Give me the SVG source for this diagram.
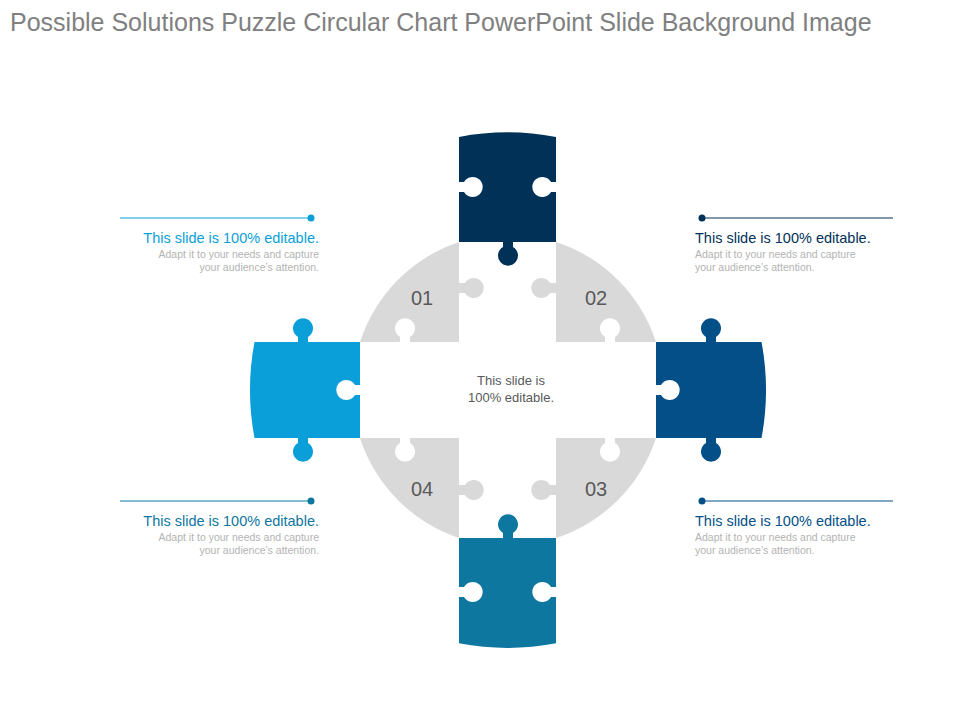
<svg xmlns="http://www.w3.org/2000/svg" width="960" height="720" viewBox="0 0 960 720">
<style>
text{font-family:"Liberation Sans",Arial,sans-serif}
.title{font-size:25px;fill:#808080}
.num{font-size:20px;fill:#595959;text-anchor:middle}
.ctr{font-size:13px;fill:#595959;text-anchor:middle}
.h{font-size:14.5px}
.s{font-size:10.5px;fill:#b3b3b3}
.g{fill:#d9d9d9}
.w{fill:#ffffff}
</style>
<defs>
<path id="knob" d="M-5,1 L-5,-6 A10,10 0 1 1 5,-6 L5,1 Z"/>
</defs>
<rect width="960" height="720" fill="#fff"/>
<text class="title" x="10" y="31">Possible Solutions Puzzle Circular Chart PowerPoint Slide Background Image</text>

<g id="q01">
<path class="g" d="M459,242 L459,342 L360,342 A156,156 0 0 1 459,242 Z"/>
<use href="#knob" class="g" transform="translate(459,288) rotate(90)"/>
</g>
<g id="q02">
<path class="g" d="M556,242 A156,156 0 0 1 656,342 L556,342 Z"/>
<use href="#knob" class="g" transform="translate(556,288) rotate(-90)"/>
</g>
<g id="q04">
<path class="g" d="M360,438 L459,438 L459,538 A156,156 0 0 1 360,438 Z"/>
<use href="#knob" class="g" transform="translate(459,490) rotate(90)"/>
</g>
<g id="q03">
<path class="g" d="M556,438 L656,438 A156,156 0 0 1 556,538 Z"/>
<use href="#knob" class="g" transform="translate(556,490) rotate(-90)"/>
</g>

<g id="top">
<path fill="#023157" d="M459,137 A258,258 0 0 1 556,137 L556,242 L459,242 Z"/>
<use href="#knob" fill="#023157" transform="translate(508,241) rotate(180)"/>
</g>
<g id="left">
<path fill="#0A9FD8" d="M360,342 L254.5,342 A258,258 0 0 0 254.5,438 L360,438 Z"/>
<use href="#knob" fill="#0A9FD8" transform="translate(303,343)"/>
<use href="#knob" fill="#0A9FD8" transform="translate(303,437) rotate(180)"/>
</g>
<g id="right">
<path fill="#044F87" d="M656,342 L761.5,342 A258,258 0 0 1 761.5,438 L656,438 Z"/>
<use href="#knob" fill="#044F87" transform="translate(711,343)"/>
<use href="#knob" fill="#044F87" transform="translate(711,437) rotate(180)"/>
</g>
<g id="bottom">
<path fill="#0E77A0" d="M459,538 L556,538 L556,643.3 A258,258 0 0 1 459,643.3 Z"/>
<use href="#knob" fill="#0E77A0" transform="translate(508,539)"/>
</g>

<g id="holes">
<use href="#knob" class="w" transform="translate(458,187) rotate(90)"/>
<use href="#knob" class="w" transform="translate(557,187) rotate(-90)"/>
<use href="#knob" class="w" transform="translate(361,390) rotate(-90)"/>
<use href="#knob" class="w" transform="translate(655,390) rotate(90)"/>
<use href="#knob" class="w" transform="translate(458,592) rotate(90)"/>
<use href="#knob" class="w" transform="translate(557,592) rotate(-90)"/>
<use href="#knob" class="w" transform="translate(405,343)"/>
<use href="#knob" class="w" transform="translate(610,343)"/>
<use href="#knob" class="w" transform="translate(405,437) rotate(180)"/>
<use href="#knob" class="w" transform="translate(610,437) rotate(180)"/>
</g>

<g id="labels">
<text class="num" x="422" y="305">01</text>
<text class="num" x="596" y="305">02</text>
<text class="num" x="422" y="496">04</text>
<text class="num" x="596" y="496">03</text>
<text class="ctr" x="511" y="385">This slide is</text>
<text class="ctr" x="511" y="402">100% editable.</text>
</g>

<g id="connectors">
<line x1="120" y1="218" x2="311" y2="218" stroke="#0A9FD8" stroke-width="1"/>
<circle cx="311" cy="218" r="3.5" fill="#0A9FD8"/>
<line x1="702" y1="218" x2="893" y2="218" stroke="#023157" stroke-width="1"/>
<circle cx="702" cy="218" r="3.5" fill="#023157"/>
<line x1="120" y1="501" x2="311" y2="501" stroke="#0E77A0" stroke-width="1"/>
<circle cx="311" cy="501" r="3.5" fill="#0E77A0"/>
<line x1="702" y1="501" x2="893" y2="501" stroke="#044F87" stroke-width="1"/>
<circle cx="702" cy="501" r="3.5" fill="#044F87"/>
</g>

<g id="text-tl" text-anchor="end">
<text class="h" x="319" y="243" fill="#0A9FD8">This slide is 100% editable.</text>
<text class="s" x="319" y="258">Adapt it to your needs and capture</text>
<text class="s" x="319" y="271">your audience’s attention.</text>
</g>
<g id="text-tr">
<text class="h" x="695" y="243" fill="#023157">This slide is 100% editable.</text>
<text class="s" x="695" y="258">Adapt it to your needs and capture</text>
<text class="s" x="695" y="271">your audience’s attention.</text>
</g>
<g id="text-bl" text-anchor="end">
<text class="h" x="319" y="526" fill="#0E77A0">This slide is 100% editable.</text>
<text class="s" x="319" y="541">Adapt it to your needs and capture</text>
<text class="s" x="319" y="554">your audience’s attention.</text>
</g>
<g id="text-br">
<text class="h" x="695" y="526" fill="#044F87">This slide is 100% editable.</text>
<text class="s" x="695" y="541">Adapt it to your needs and capture</text>
<text class="s" x="695" y="554">your audience’s attention.</text>
</g>
</svg>
